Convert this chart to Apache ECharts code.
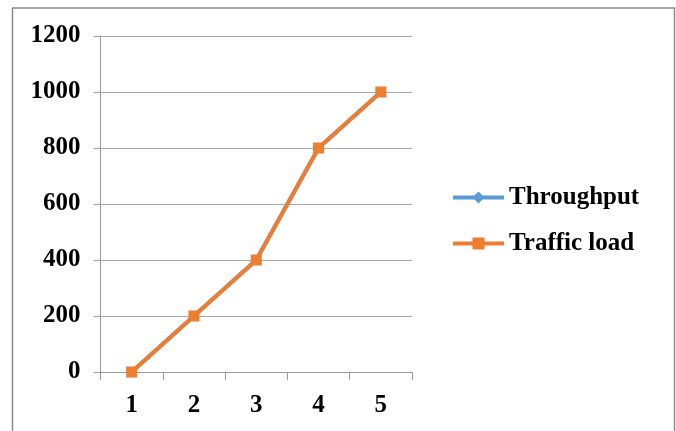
<!DOCTYPE html>
<html>
<head>
<meta charset="utf-8">
<script src="https://cdn.jsdelivr.net/npm/echarts@6/dist/echarts.min.js"></script>
<style>
  html, body { margin: 0; padding: 0; background: #fff; }
  #chart { width: 676px; height: 431px; }
</style>
</head>
<body>
<div id="chart"></div>
<script>
// Load steps on the x axis
const categories = ['1', '2', '3', '4', '5'];
// Measured throughput per step
const throughput = [0, 200, 400, 800, 1000];
// Offered traffic load per step
const trafficLoad = [0, 200, 400, 800, 1000];
// Value axis range
const yMin = 0;
const yMax = 1200;
const yStep = 200;

const serifBold = {
  fontFamily: '"Liberation Serif", "DejaVu Serif", serif',
  fontWeight: 'bold',
  fontSize: 25,
  color: '#000'
};

const chart = echarts.init(document.getElementById('chart'), null, { renderer: 'canvas' });

chart.setOption({
  backgroundColor: '#fff',
  animation: false,
  graphic: [{
    type: 'rect',
    shape: { x: 12.5, y: 8, width: 662, height: 450 },
    style: { fill: 'none', stroke: '#8a8a8a', lineWidth: 1.5 },
    silent: true
  }],
  grid: { left: 100.5, right: 264, top: 36, bottom: 59, containLabel: false },
  legend: {
    orient: 'vertical',
    left: 446,
    top: 180,
    itemWidth: 51,
    itemHeight: 15,
    itemGap: 21,
    lineStyle: { width: 4 },
    textStyle: Object.assign({}, serifBold, { letterSpacing: 0.4 }),
    data: ['Throughput', 'Traffic load']
  },
  xAxis: {
    type: 'category',
    data: categories,
    boundaryGap: true,
    axisLine: { show: true, lineStyle: { color: '#9a9a9a', width: 1 } },
    axisTick: { show: true, length: 8, lineStyle: { color: '#9a9a9a' } },
    axisLabel: Object.assign({ margin: 21 }, serifBold),
    splitLine: { show: false }
  },
  yAxis: {
    type: 'value',
    min: yMin,
    max: yMax,
    interval: yStep,
    axisLine: { show: true, lineStyle: { color: '#9a9a9a', width: 1 } },
    axisTick: { show: true, length: 7, lineStyle: { color: '#9a9a9a' } },
    axisLabel: Object.assign({ margin: 20, formatter: v => String(v) }, serifBold),
    splitLine: { show: true, lineStyle: { color: '#a6a6a6', width: 1 } }
  },
  series: [
    {
      name: 'Throughput',
      type: 'line',
      data: throughput,
      symbol: 'diamond',
      symbolSize: 10,
      lineStyle: { color: '#5B9BD5', width: 4 },
      itemStyle: { color: '#5B9BD5' },
      z: 2
    },
    {
      name: 'Traffic load',
      type: 'line',
      data: trafficLoad,
      symbol: 'rect',
      symbolSize: 11,
      lineStyle: { color: '#ED7D31', width: 4 },
      itemStyle: { color: '#ED7D31' },
      z: 3
    }
  ]
});
</script>
</body>
</html>
